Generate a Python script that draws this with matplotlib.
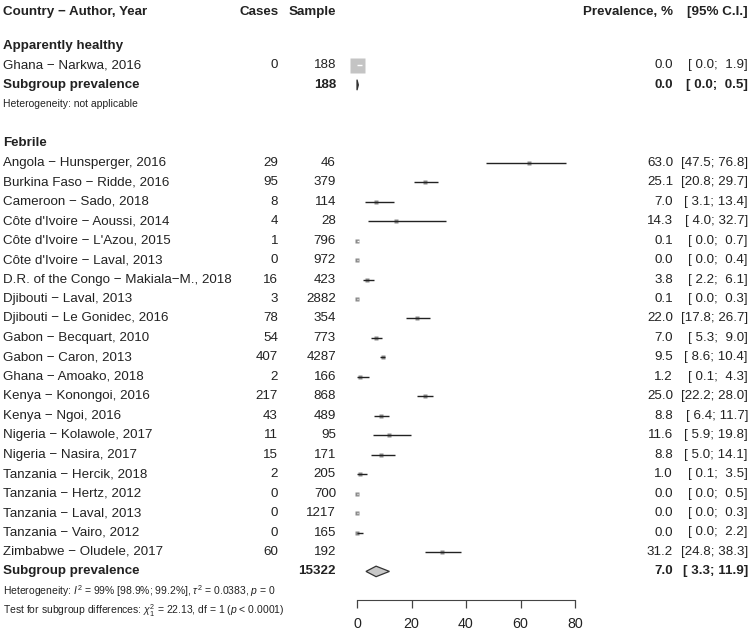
import matplotlib
matplotlib.use("Agg")
import matplotlib.pyplot as plt
from matplotlib import transforms

plt.rcParams['font.family'] = ['Liberation Sans', 'DejaVu Sans']
plt.rcParams['mathtext.fontset'] = 'custom'
plt.rcParams['mathtext.rm'] = 'Liberation Sans'
plt.rcParams['mathtext.it'] = 'Liberation Sans:italic'

# subgroup 1: apparently healthy
healthy_names = ["Ghana − Narkwa, 2016"]
healthy_cases = [0]
healthy_n = [188]
healthy_prev = [0.0]
healthy_lo = [0.0]
healthy_hi = [1.9]
healthy_pooled = (188, 0.0, 0.0, 0.5)

# subgroup 2: febrile
febrile_names = [
    "Angola − Hunsperger, 2016", "Burkina Faso − Ridde, 2016", "Cameroon − Sado, 2018",
    "Côte d'Ivoire − Aoussi, 2014", "Côte d'Ivoire − L'Azou, 2015", "Côte d'Ivoire − Laval, 2013",
    "D.R. of the Congo − Makiala−M., 2018", "Djibouti − Laval, 2013", "Djibouti − Le Gonidec, 2016",
    "Gabon − Becquart, 2010", "Gabon − Caron, 2013", "Ghana − Amoako, 2018",
    "Kenya − Konongoi, 2016", "Kenya − Ngoi, 2016", "Nigeria − Kolawole, 2017",
    "Nigeria − Nasira, 2017", "Tanzania − Hercik, 2018", "Tanzania − Hertz, 2012",
    "Tanzania − Laval, 2013", "Tanzania − Vairo, 2012", "Zimbabwe − Oludele, 2017",
]
febrile_cases = [29, 95, 8, 4, 1, 0, 16, 3, 78, 54, 407, 2, 217, 43, 11, 15, 2, 0, 0, 0, 60]
febrile_n = [46, 379, 114, 28, 796, 972, 423, 2882, 354, 773, 4287, 166, 868, 489, 95, 171,
             205, 700, 1217, 165, 192]
febrile_prev = [63.0, 25.1, 7.0, 14.3, 0.1, 0.0, 3.8, 0.1, 22.0, 7.0, 9.5, 1.2, 25.0, 8.8,
                11.6, 8.8, 1.0, 0.0, 0.0, 0.0, 31.2]
febrile_lo = [47.5, 20.8, 3.1, 4.0, 0.0, 0.0, 2.2, 0.0, 17.8, 5.3, 8.6, 0.1, 22.2, 6.4,
              5.9, 5.0, 0.1, 0.0, 0.0, 0.0, 24.8]
febrile_hi = [76.8, 29.7, 13.4, 32.7, 0.7, 0.4, 6.1, 0.3, 26.7, 9.0, 10.4, 4.3, 28.0, 11.7,
              19.8, 14.1, 3.5, 0.5, 0.3, 2.2, 38.3]
febrile_pooled = (15322, 7.0, 3.3, 11.9)

het_healthy = "Heterogeneity: not applicable"
het_febrile = r"Heterogeneity: $I^2$ = 99% [98.9%; 99.2%], $\tau^2$ = 0.0383, $p$ = 0"
test_text = r"Test for subgroup differences: $\chi^2_1$ = 22.13, df = 1 ($p$ < 0.0001)"
xticks = [0, 20, 40, 60, 80]

W, H = 749, 632
ROW0, STEP = 46, 19.46   # pixel y of first row, row spacing
PX_PER_UNIT = 218 / 80

fig = plt.figure(figsize=(W / 100, H / 100), dpi=100)
ax = fig.add_axes([357 / W, 0, 218 / W, 1])
ax.set_xlim(0, 80)
ax.set_ylim((H - ROW0) / STEP, -ROW0 / STEP)
for s in ['top', 'left', 'right']:
    ax.spines[s].set_visible(False)
ax.spines['bottom'].set_position(('data', (600 - ROW0) / STEP))
ax.spines['bottom'].set_color('#444444')
ax.set_yticks([])
ax.set_xticks(xticks)
ax.tick_params(axis='x', direction='out', length=6, width=0.9, color='#444444',
               labelsize=10.3, labelcolor='#222222', pad=6)

tr = transforms.blended_transform_factory(fig.transFigure, ax.transData)
FS = 9.6
TXT = '#222222'


def put(xpx, row, s, ha='left', bold=False, size=FS, color=TXT):
    ax.text(xpx / W, row, s, transform=tr, ha=ha, va='center', fontsize=size,
            fontweight='bold' if bold else 'normal', color=color, clip_on=False)


def ci_text(lo, hi):
    return f"[{lo:4.1f}; {hi:4.1f}]"


# header
hdr = (12 - ROW0) / STEP
put(3, hdr, "Country − Author, Year", bold=True)
put(279, hdr, "Cases", ha='right', bold=True)
put(336, hdr, "Sample", ha='right', bold=True)
put(673, hdr, "Prevalence, %", ha='right', bold=True)
put(748, hdr, "[95% C.I.]", ha='right', bold=True)


def draw_group(start, title, names, cases, ns, prev, lo, hi, pooled, het_lines):
    put(3, start, title, bold=True)
    big = len(names) == 1
    sq_px = 15 if big else 4
    for i in range(len(names)):
        r = start + 1 + i
        put(3, r, names[i])
        put(278, r, str(cases[i]), ha='right')
        put(336, r, str(ns[i]), ha='right')
        put(673, r, f"{prev[i]:.1f}", ha='right')
        put(748, r, ci_text(lo[i], hi[i]), ha='right')
        ax.plot([prev[i]], [r], marker='s', ms=sq_px * 0.72, color='#c4c4c4' if big else '#8a8a8a',
                mec='none', clip_on=False, zorder=2)
        inside = (hi[i] - lo[i]) * PX_PER_UNIT < sq_px
        ax.plot([lo[i], hi[i]], [r, r], color='white' if inside else '#222222', lw=1.0,
                clip_on=False, zorder=3, solid_capstyle='butt')
    r = start + 1 + len(names)
    total, est, plo, phi = pooled
    put(3, r, "Subgroup prevalence", bold=True)
    put(336, r, str(total), ha='right', bold=True)
    put(673, r, f"{est:.1f}", ha='right', bold=True)
    put(748, r, ci_text(plo, phi), ha='right', bold=True)
    hh = 0.27
    ax.fill([plo, est, phi, est], [r, r - hh, r, r + hh], facecolor='#c8c8c8',
            edgecolor='#333333', lw=0.9, clip_on=False, zorder=3)
    for j, line in enumerate(het_lines):
        put(3, r + 1 + j, line, size=7.5)
    return r + 1 + len(het_lines)


end = draw_group(0, "Apparently healthy", healthy_names, healthy_cases, healthy_n,
                 healthy_prev, healthy_lo, healthy_hi, healthy_pooled, [het_healthy])
draw_group(end + 1, "Febrile", febrile_names, febrile_cases, febrile_n, febrile_prev,
           febrile_lo, febrile_hi, febrile_pooled, [het_febrile, test_text])

fig.savefig("out.png", dpi=100)
